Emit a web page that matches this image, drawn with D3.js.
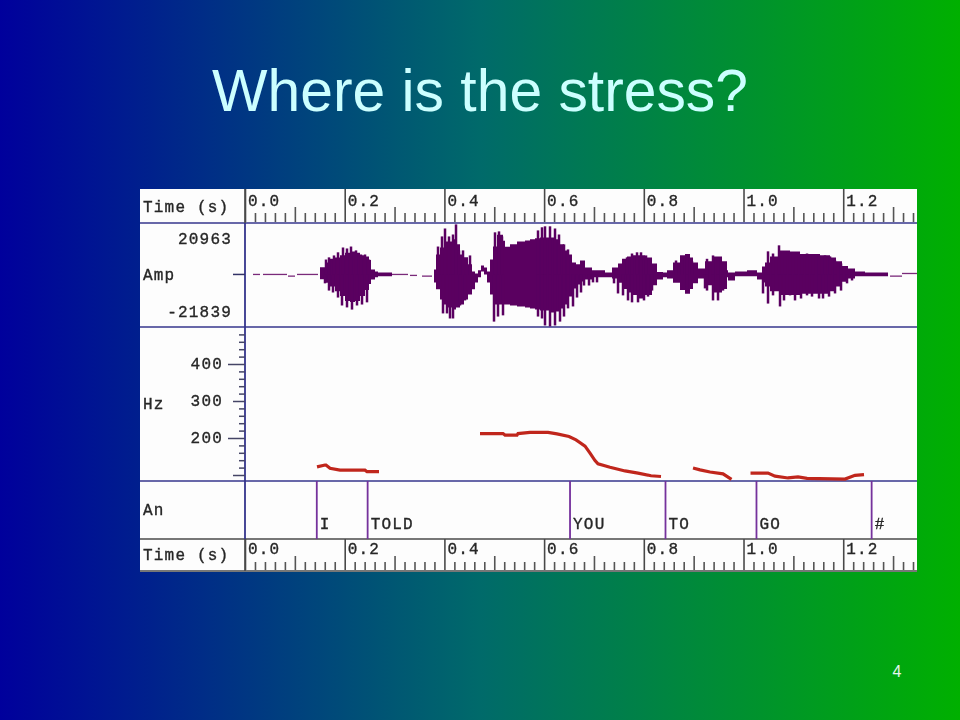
<!DOCTYPE html>
<html><head><meta charset="utf-8">
<script src="https://cdn.jsdelivr.net/npm/d3@7"></script>
<style>html,body{margin:0;padding:0;background:#000}svg{display:block}
.mono{font-family:"Liberation Mono",monospace;font-size:16px;letter-spacing:1.2px;fill:#262626;stroke:#262626;stroke-width:.35px}
.domain{display:none}</style></head><body><svg id="c" width="960" height="720"></svg>
<script>
const titleText = "Where is the stress?";
const pageNumber = "4";
const timeLabels = ["0.0","0.2","0.4","0.6","0.8","1.0","1.2"];
const timeMajor = [0,0.2,0.4,0.6,0.8,1.0,1.2];
const timeMid = [0.1,0.3,0.5,0.7,0.9,1.1,1.3];
const ampLabels = ["20963","-21839"];
const hzLabels = [400,300,200];
const hzLong = [200,400];
const hzMid = [100,300];
const annotationWords = ["I","TOLD","YOU","TO","GO","#"];
const annotationTimes = [0.144,0.246,0.652,0.8435,1.026,1.257];

// waveform envelope: time (ms), upper and lower amplitude (thousands); null = silence
const bodyMs = [150,160,170,180,190,200,210,220,230,240,248,252,260,266,294,300,
378,382,390,398,406,414,422,430,438,446,454,460,466,472,478,484,490,496,504,510,516,520,530,544,560,570,580,590,610,622,630,638,646,654,662,670,680,694,720,734,746,754,764,774,786,800,814,824,836,844,856,870,880,890,896,906,920,934,946,954,964,966,980,1004,1024,1034,1040,1050,1070,1090,1110,1130,1150,1170,1182,1194,1206,1220,1240,1286];
const bodyUp = [3,5,6.5,7,8,9,9.5,9,8,7.5,6,2.1,1.2,.8,.4,null,
2.1,8.3,11.2,13.7,13.7,14.6,12.5,8.3,7.1,4.2,1.2,.4,1.7,3.7,2.9,1.2,6.2,11.6,16.5,16.5,14,11.5,12.5,13.7,14.1,14.6,15,15.4,15.4,14.6,12.5,10,8.3,5,4.2,
5.8,2.9,1.7,.8,2.9,4.6,6.5,7.5,8,8,7,4.6,1,.8,1.7,5,8,8.5,7,5,2.5,5.5,7.5,7.5,5.5,1.7,.8,1.2,1.7,.8,3.3,5,7.5,10,9.5,8.5,8.5,8,7,5.5,3.5,2.5,1.2,.8,.6];
const bodyLo = [-2,-3.5,-5,-7,-9,-11,-11.5,-11,-9,-6.5,-4,-2.1,-1.2,-.8,-.4,null,
-3.3,-6.2,-10.4,-12.5,-13.7,-14.6,-13.7,-12.5,-10.4,-8.3,-6.2,-3.3,-1.2,1.2,0,-3.3,-8.3,-12.5,-12.5,-12.5,-12.5,-12.5,-12.9,-13.3,-13.7,-14.1,-14.6,-15,-15.8,-15.4,-14.1,-12.5,-9.2,-5.8,-4.2,
-2.9,-2.1,-1.2,-1.2,-1.7,-3.5,-6,-7.5,-8.5,-10,-8.5,-4.5,-2.1,-1.2,-1.7,-3.5,-6.5,-8,-6,-3.7,-1.7,-4.5,-7.5,-7.5,-6,-1.2,-2.5,-.8,-.8,-2.1,-3.3,-5,-7,-8.5,-8.5,-8,-8,-8,-7,-5,-3,-1.7,-.8,-.8,-.6];

// glottal pulse peaks
const peakUpMs = [162,168,178,186,196,204,212,222,232,240,248,386,394,400,408,416,422,428,436,450,500,508,514,586,594,600,610,620,628,638,646,764,774,784,792,802,862,874,884,894,924,936,946,1046,1056,1068,1080,1090,1102,1114,1124,1136,1148,1160,1170,1180,1192];
const peakUpAmp = [6.2,7.1,7.9,9.2,11.2,10.8,11.6,10,8.3,8.3,6.2,11.6,15.8,19.1,15.8,16.6,20.8,10,10,7.9,17.5,17.9,15.8,18.3,19.6,20,20,19.1,16.6,12.5,10.4,7.1,8.7,9.2,9.2,7.9,5.8,7.5,7.9,5.5,6.5,7.9,7.1,9.6,8.7,12.1,9.6,8.7,8.7,7.9,8.7,7.9,7.5,7.9,7.5,5.8,4.6];
const peakDownMs = [160,168,176,186,194,204,214,224,234,244,396,404,410,416,430,440,498,506,516,586,594,600,610,620,630,638,646,656,664,672,678,688,696,704,738,746,756,766,774,786,798,806,814,884,920,924,936,946,956,1036,1046,1056,1070,1078,1090,1100,1112,1124,1134,1148,1156,1168,1180,1192,1204,1214];
const peakDownAmp = [-3.7,-6.7,-7.5,-9.6,-12.9,-13.7,-14.6,-12.9,-12.5,-11.6,-16.2,-16.2,-18.3,-18.3,-12.9,-10.8,-19.6,-17.5,-17,-17.5,-18.3,-21.2,-21.6,-21.2,-19.6,-17.5,-14.1,-13.3,-9.6,-7.5,-4.6,-4.6,-3.3,-3.3,-3.7,-7.9,-8.7,-10.8,-11.6,-11.6,-10.8,-9.2,-6.7,-6.7,-5.8,-6.7,-10.8,-10.8,-6.7,-7.9,-12.1,-8.7,-13.3,-10.8,-8.7,-10.8,-10,-8.7,-9.2,-10,-10,-9.2,-7.9,-6.7,-3.7,-2.5];

// near-silent dashes
const quietStartMs = [16,36,86,104,294,330,354,1290,1314];
const quietEndMs = [30,84,100,146,326,344,374,1314,1344];
const quietAmp = [0,0,-.7,0,0,-.4,-.7,-.7,.4];

// pitch track: segments of [ms] and [Hz]
const pitch1Ms = [144,160,162,170,190,240,244,268];
const pitch1Hz = [122,127,127,118,113,113,109,109];
const pitch2Ms = [470,516,520,544,546,570,606,624,648,662,680,690,700,706,730,760,786,812,832];
const pitch2Hz = [212,212,208,208,212,215,215,211,204,195,178,159,139,130,121,111,105,98,96];
const pitch3Ms = [896,910,930,956,973];
const pitch3Hz = [119,114,108,103,88];
const pitch4Ms = [1011,1046,1060,1086,1106,1124,1200,1220,1238];
const pitch4Hz = [105,105,97,92,95,91,89,99,101];

const svg = d3.select("#c");
const defs = svg.append("defs");
const grad = defs.append("linearGradient").attr("id","bg");
[["0%","#00009c"],["50%","#006a6a"],["100%","#00b000"]].forEach(s=>grad.append("stop").attr("offset",s[0]).attr("stop-color",s[1]));
defs.append("filter").attr("id","soft").append("feGaussianBlur").attr("stdDeviation",0.35);
svg.append("rect").attr("width",960).attr("height",720).attr("fill","url(#bg)");
svg.append("text").attr("x",480).attr("y",111).attr("text-anchor","middle").attr("font-family","Liberation Sans").attr("font-size",58.8).attr("fill","#ccffff").text(titleText);
svg.append("text").attr("x",897).attr("y",677).attr("text-anchor","middle").attr("font-family","Liberation Sans").attr("font-size",16).attr("fill","#e6f5f0").text(pageNumber);

const g = svg.append("g").attr("filter","url(#soft)");
g.append("rect").attr("x",140).attr("y",189).attr("width",777).attr("height",383).attr("fill","#fdfdfd");

const x = d3.scaleLinear().domain([0,1.348]).range([245,917]);
const xMs = ms => x(ms/997);
const yAmp = d3.scaleLinear().domain([-21.839,20.963]).range([327,224]);
const yHz = d3.scaleLinear().domain([100,400]).range([475,364]);

const blue="#34348c", grey="#4a4a4a", purple="#5a0060";

function timeStrip(base,major){
  const minor = d3.range(0.02,1.348,0.02).filter(t=>Math.abs(t*10-Math.round(t*10))>0.01);
  [[minor,base==222?9:8,"#555"],[timeMid.filter(t=>t<1.348),base==222?15:14,"#555"],[timeMajor,major,grey]].forEach(([vals,size,col])=>{
    const a = g.append("g").attr("transform",`translate(0,${base})`).call(d3.axisTop(x).tickValues(vals).tickSize(size).tickFormat(""));
    a.selectAll("line").attr("stroke",col).attr("stroke-width",1.6);
  });
  g.selectAll(null).data(timeLabels).enter().append("text").attr("class","mono")
   .attr("x",(d,i)=>x(timeMajor[i])+3).attr("y",base-16).text(d=>d);
  g.append("text").attr("class","mono").attr("x",143).attr("y",base-10).text("Time (s)");
}
timeStrip(222,33);
timeStrip(570,31);

// horizontal rules
[[223,blue],[327,blue],[481,blue],[539,grey],[571,grey]].forEach(([y,c])=>g.append("line").attr("x1",140).attr("x2",917).attr("y1",y).attr("y2",y).attr("stroke",c).attr("stroke-width",1.6));
g.append("line").attr("x1",245).attr("x2",245).attr("y1",189).attr("y2",223).attr("stroke",grey).attr("stroke-width",1.6);
g.append("line").attr("x1",245).attr("x2",245).attr("y1",223).attr("y2",539).attr("stroke",blue).attr("stroke-width",1.8);
g.append("line").attr("x1",245).attr("x2",245).attr("y1",539).attr("y2",571).attr("stroke",grey).attr("stroke-width",1.6);

// amplitude panel
g.append("line").attr("x1",233).attr("x2",245).attr("y1",yAmp(0)).attr("y2",yAmp(0)).attr("stroke","#333366").attr("stroke-width",1.5);
g.append("text").attr("class","mono").attr("x",232).attr("y",244).attr("text-anchor","end").text(ampLabels[0]);
g.append("text").attr("class","mono").attr("x",232).attr("y",317).attr("text-anchor","end").text(ampLabels[1]);
g.append("text").attr("class","mono").attr("x",143).attr("y",280).text("Amp");

g.selectAll(null).data(quietAmp).enter().append("line")
 .attr("x1",(d,i)=>xMs(quietStartMs[i])).attr("x2",(d,i)=>xMs(quietEndMs[i]))
 .attr("y1",d=>yAmp(d)).attr("y2",d=>yAmp(d)).attr("stroke","#7a2a7a").attr("stroke-width",1.3);
const area = d3.area().defined(i=>bodyUp[i]!==null).x(i=>xMs(bodyMs[i])).y0(i=>yAmp(bodyLo[i])).y1(i=>yAmp(bodyUp[i])).curve(d3.curveStepAfter);
g.append("path").attr("d",area(d3.range(bodyMs.length))).attr("fill",purple);
g.selectAll(null).data(peakUpAmp).enter().append("line")
 .attr("x1",(d,i)=>xMs(peakUpMs[i])).attr("x2",(d,i)=>xMs(peakUpMs[i]))
 .attr("y1",yAmp(0)).attr("y2",d=>yAmp(d)).attr("stroke",purple).attr("stroke-width",2.5);
g.selectAll(null).data(peakDownAmp).enter().append("line")
 .attr("x1",(d,i)=>xMs(peakDownMs[i])).attr("x2",(d,i)=>xMs(peakDownMs[i]))
 .attr("y1",yAmp(0)).attr("y2",d=>yAmp(d)).attr("stroke",purple).attr("stroke-width",2.5);

// pitch panel
const hzAll = d3.range(100,481,20);
[[hzAll.filter(v=>v%100),6],[hzMid,12],[hzLong,17]].forEach(([vals,size])=>{
  const a = g.append("g").attr("transform","translate(245,0)").call(d3.axisLeft(yHz).tickValues(vals).tickSize(size).tickFormat(""));
  a.selectAll("line").attr("stroke","#444466").attr("stroke-width",1.5);
});
g.selectAll(null).data(hzLabels).enter().append("text").attr("class","mono").attr("x",223).attr("text-anchor","end")
 .attr("y",d=>yHz(d)+5).text(d=>d);
g.append("text").attr("class","mono").attr("x",143).attr("y",409).text("Hz");
const pitchLine = d3.line().x(d=>xMs(d[0])).y(d=>yHz(d[1]));
[[pitch1Ms,pitch1Hz],[pitch2Ms,pitch2Hz],[pitch3Ms,pitch3Hz],[pitch4Ms,pitch4Hz]].forEach(([m,h])=>{
  g.append("path").attr("d",pitchLine(d3.zip(m,h))).attr("fill","none").attr("stroke","#c0281e").attr("stroke-width",3.2);
});

// annotation panel
g.append("text").attr("class","mono").attr("x",143).attr("y",515).text("An");
g.selectAll(null).data(annotationTimes).enter().append("line")
 .attr("x1",d=>x(d)).attr("x2",d=>x(d)).attr("y1",481).attr("y2",539).attr("stroke","#74309c").attr("stroke-width",1.8);
g.selectAll(null).data(annotationWords).enter().append("text").attr("class","mono")
 .attr("x",(d,i)=>x(annotationTimes[i])+3).attr("y",529).text(d=>d);
</script></body></html>
